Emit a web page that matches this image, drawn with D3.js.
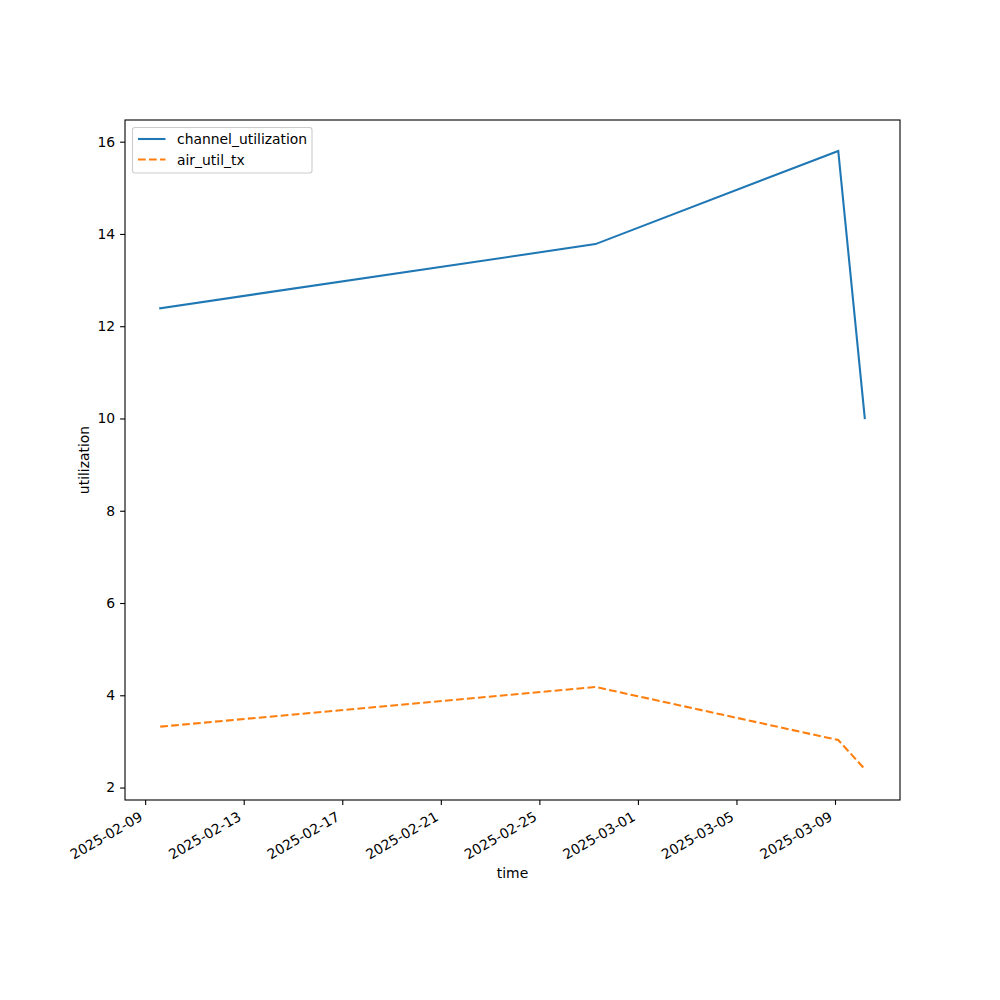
<!DOCTYPE html>
<html>
<head>
<meta charset="utf-8">
<script src="https://cdn.jsdelivr.net/npm/d3@7"></script>
<style>
  body { margin: 0; background: #fff; }
  svg { display: block; font-family: "DejaVu Sans", sans-serif; }
</style>
</head>
<body>
<svg id="chart" width="1000" height="1000"></svg>
<script>
// ---- data ----
const times = ["2025-02-09T14:40", "2025-02-27T06:40", "2025-03-09T03:10", "2025-03-10T05:00"];
const channelUtilization = [12.39, 13.78, 15.80, 10.01];
const airUtilTx = [3.32, 4.18, 3.03, 2.40];
const seriesNames = ["channel_utilization", "air_util_tx"];
const xTickLabels = ["2025-02-09", "2025-02-13", "2025-02-17", "2025-02-21", "2025-02-25", "2025-03-01", "2025-03-05", "2025-03-09"];
const yTickValues = [2, 4, 6, 8, 10, 12, 14, 16];

const parse = d3.timeParse("%Y-%m-%dT%H:%M");
const parseDay = d3.timeParse("%Y-%m-%d");
const dates = times.map(parse);

const m = { left: 125, right: 900, top: 120, bottom: 800 };
const svg = d3.select("#chart");
const fs = 13.9;
const FONT = "DejaVu Sans, sans-serif";

// matplotlib-like 5% margins
const tExt = d3.extent(dates, d => +d);
const tPad = (tExt[1] - tExt[0]) * 0.05;
const x = d3.scaleTime().domain([new Date(tExt[0] - tPad), new Date(tExt[1] + tPad)]).range([m.left, m.right]);
const allY = channelUtilization.concat(airUtilTx);
const yExt = d3.extent(allY);
const yPad = (yExt[1] - yExt[0]) * 0.05;
const y = d3.scaleLinear().domain([yExt[0] - yPad, yExt[1] + yPad]).range([m.bottom, m.top]);

const series = [
  { name: seriesNames[0], values: channelUtilization, color: "#1f77b4", dash: null },
  { name: seriesNames[1], values: airUtilTx, color: "#ff7f0e", dash: "7.7,3.3" }
];

const line = d3.line().x(d => x(d[0])).y(d => y(d[1]));
series.forEach(s => {
  svg.append("path")
    .datum(dates.map((d, i) => [d, s.values[i]]))
    .attr("d", line)
    .attr("fill", "none")
    .attr("stroke", s.color)
    .attr("stroke-width", 2.08)
    .attr("stroke-dasharray", s.dash)
    .attr("stroke-linejoin", "miter")
    .attr("stroke-linecap", s.dash ? "butt" : "square");
});

// axes frame
svg.append("rect")
  .attr("x", m.left).attr("y", m.top)
  .attr("width", m.right - m.left).attr("height", m.bottom - m.top)
  .attr("fill", "none").attr("stroke", "#000").attr("stroke-width", 1.1);

// x axis
const xTicks = xTickLabels.map(parseDay);
const xAxis = d3.axisBottom(x).tickValues(xTicks).tickSize(4.9).tickPadding(4.9).tickFormat(d3.timeFormat("%Y-%m-%d"));
const gx = svg.append("g").attr("transform", `translate(0,${m.bottom})`).call(xAxis)
  .attr("font-family", FONT).attr("font-size", fs);
gx.select(".domain").remove();
gx.selectAll(".tick line").attr("stroke", "#000").attr("stroke-width", 1.1);
gx.selectAll(".tick text")
  .attr("fill", "#000")
  .attr("text-anchor", "end")
  .attr("y", 0).attr("dy", 0)
  .attr("transform", "translate(-2,19.5) rotate(-30)");

// y axis
const yAxis = d3.axisLeft(y).tickValues(yTickValues).tickSize(4.9).tickPadding(4.9).tickFormat(d3.format("d"));
const gy = svg.append("g").attr("transform", `translate(${m.left},0)`).call(yAxis)
  .attr("font-family", FONT).attr("font-size", fs);
gy.select(".domain").remove();
gy.selectAll(".tick line").attr("stroke", "#000").attr("stroke-width", 1.1);
gy.selectAll(".tick text").attr("fill", "#000");

// axis labels
svg.append("text").attr("x", (m.left + m.right) / 2).attr("y", 878)
  .attr("text-anchor", "middle").attr("font-size", fs).text("time");
svg.append("text").attr("transform", `translate(89,${(m.top + m.bottom) / 2}) rotate(-90)`)
  .attr("text-anchor", "middle").attr("font-size", fs).text("utilization");

// legend
const lg = svg.append("g");
lg.append("rect").attr("x", 132.5).attr("y", 127.5).attr("width", 179.5).attr("height", 45.5)
  .attr("rx", 2.5).attr("fill", "#fff").attr("fill-opacity", 0.8)
  .attr("stroke", "#cccccc").attr("stroke-width", 1.1);
series.forEach((s, i) => {
  const yy = 139 + i * 20.5;
  lg.append("line").attr("x1", 138).attr("x2", 165.5).attr("y1", yy).attr("y2", yy)
    .attr("stroke", s.color).attr("stroke-width", 2.08).attr("stroke-dasharray", s.dash);
  lg.append("text").attr("x", 177).attr("y", yy + 5).attr("font-size", fs).text(s.name);
});
</script>
</body>
</html>
